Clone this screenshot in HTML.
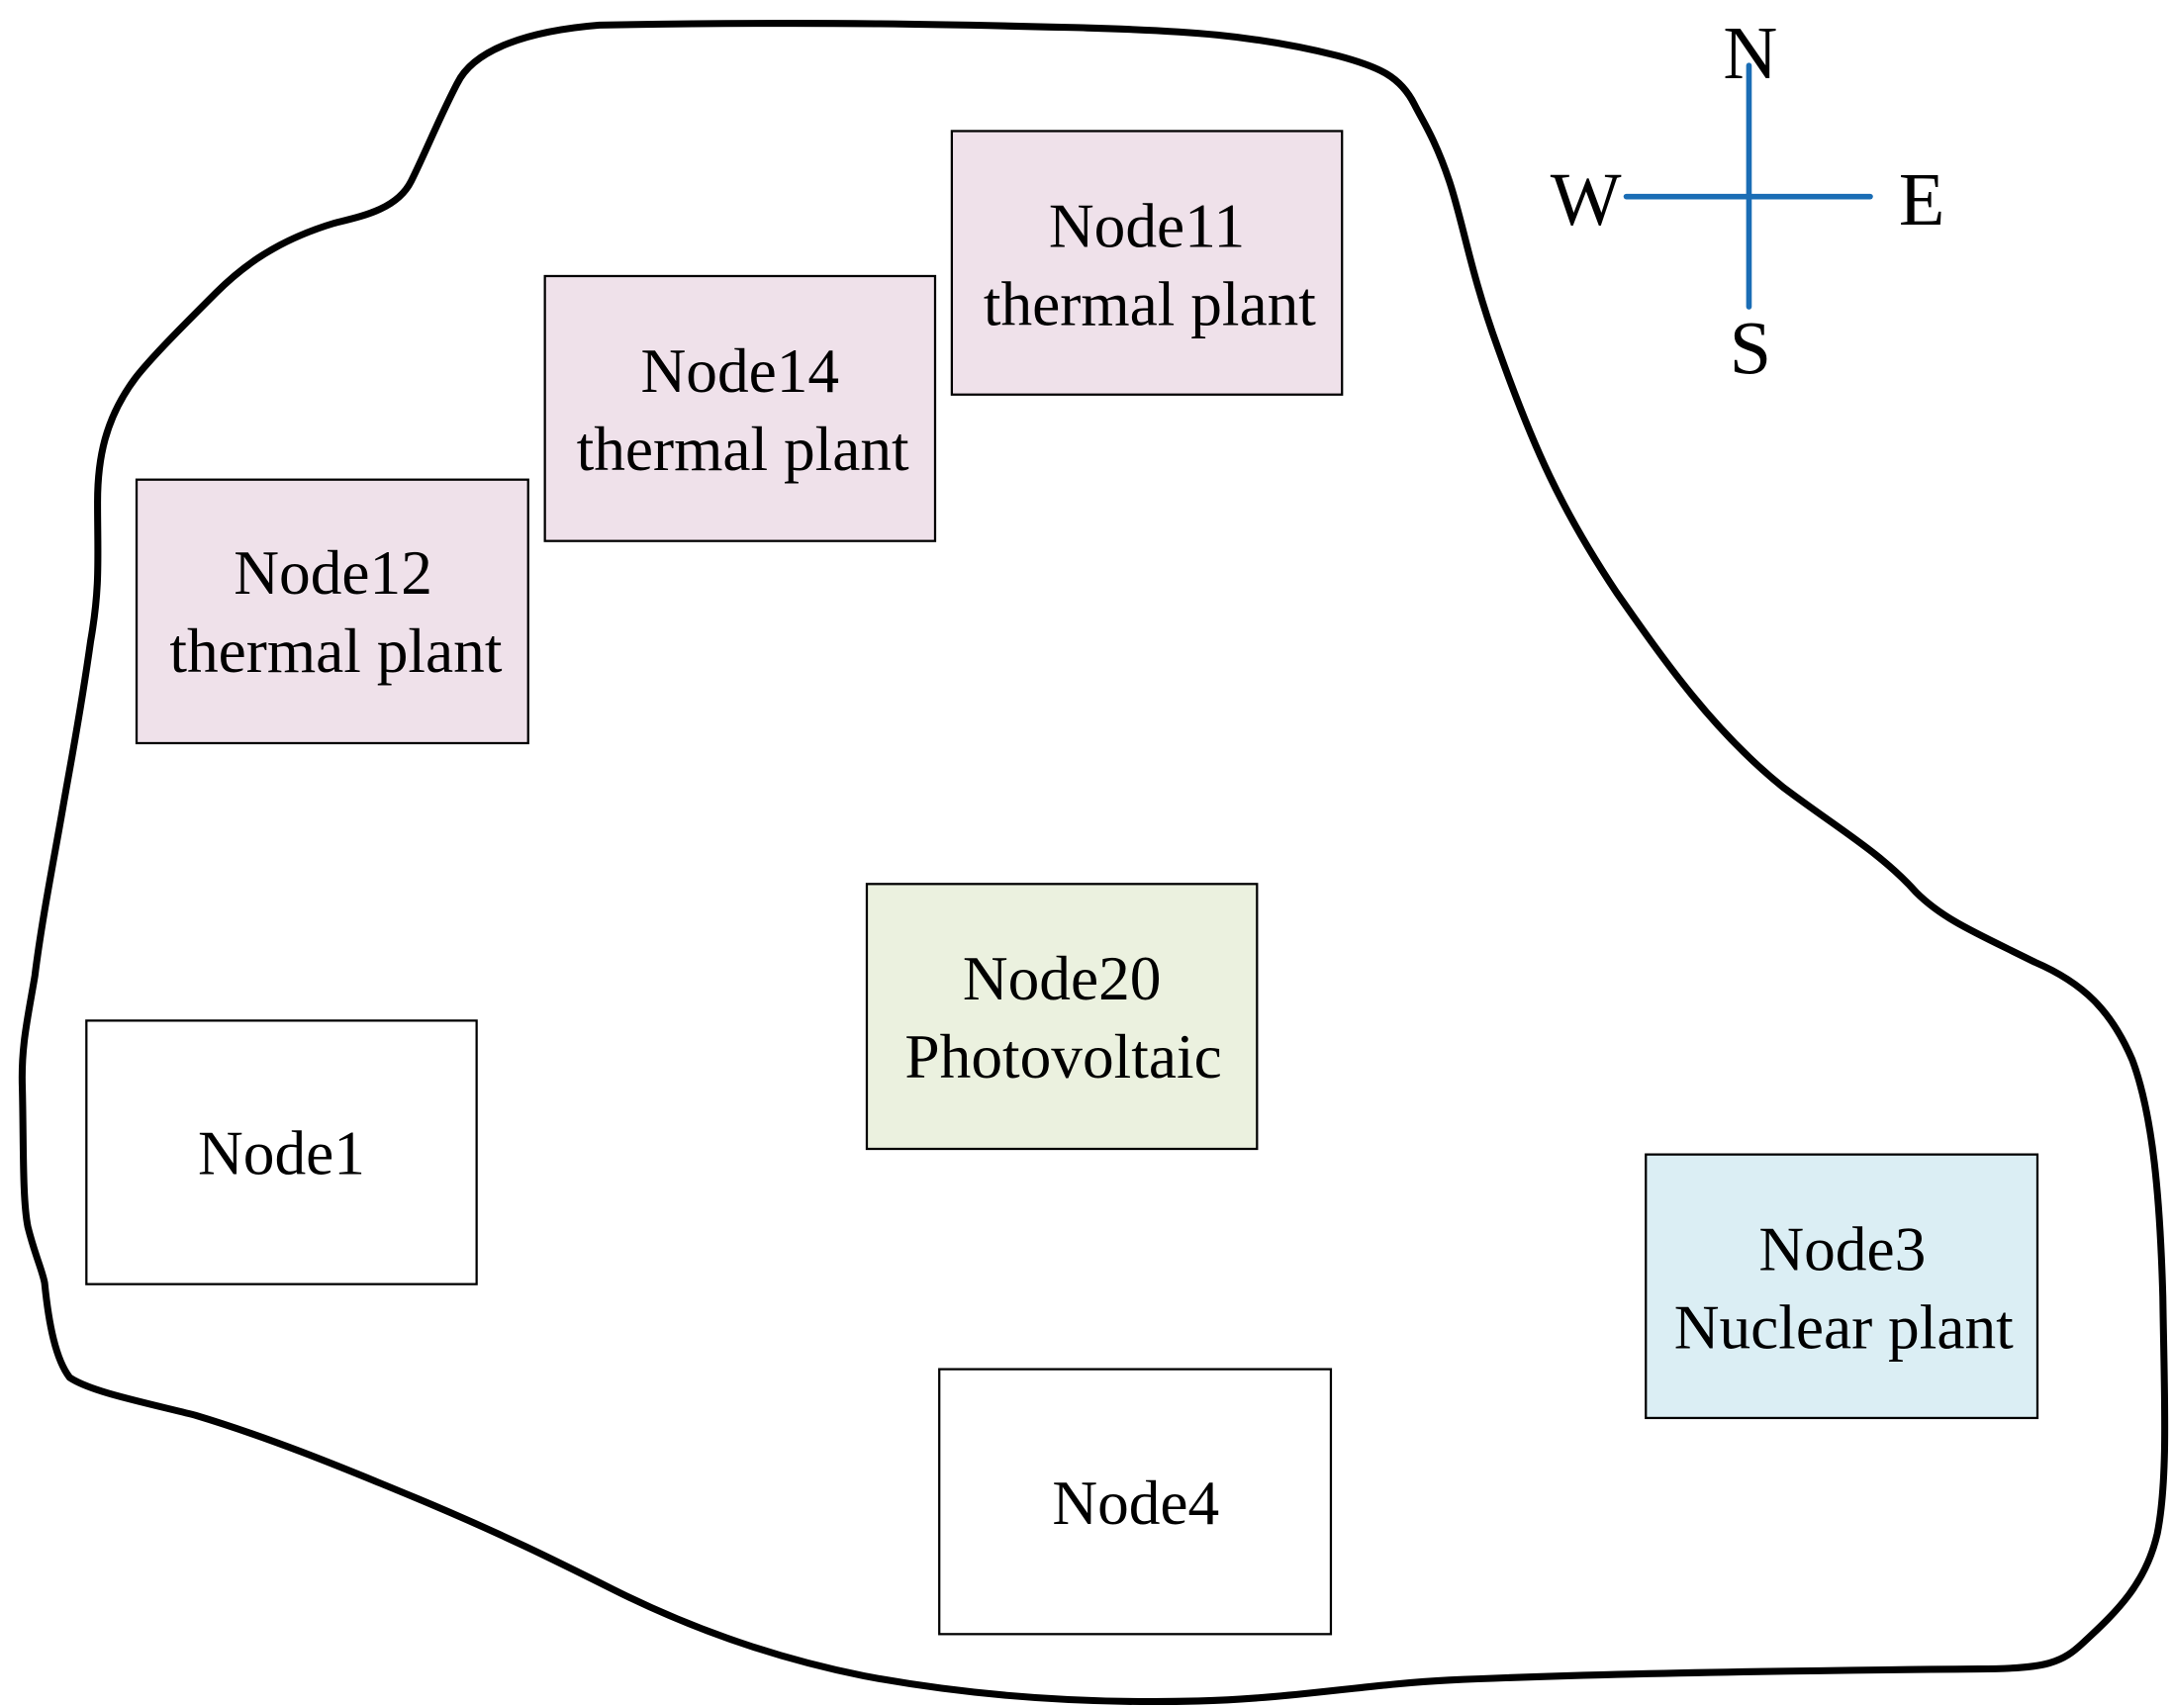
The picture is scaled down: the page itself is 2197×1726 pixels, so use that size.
<!DOCTYPE html>
<html><head><style>html,body{margin:0;padding:0;background:#fff;}svg{display:block}</style></head>
<body>
<svg width="2197" height="1726" viewBox="0 0 1560 1225" preserveAspectRatio="none" xmlns="http://www.w3.org/2000/svg">
<path d="M430,18 C380,22 340,35 328,60 C315,85 305,110 295,130 C285,150 260,155 240,160 C200,172 175,190 155,210 C130,235 110,255 98,270 C75,300 70,330 70,360 C70,400 72,420 65,460 C58,510 52,540 45,580 C38,620 30,660 25,700 C20,730 15,750 16,780 C17,820 16,860 20,880 C25,900 30,910 32,920 C35,950 40,975 50,988 C65,998 100,1005 140,1015 C190,1030 240,1050 300,1075 C360,1100 400,1120 440,1140 C500,1170 560,1190 620,1202 C700,1217 780,1222 860,1220 C930,1218 980,1208 1040,1205 C1150,1200 1300,1198 1420,1197 C1470,1197 1480,1192 1495,1178 C1520,1155 1540,1135 1548,1100 C1556,1060 1553,1000 1552,930 C1550,860 1545,800 1530,760 C1515,725 1495,705 1460,690 C1420,670 1395,660 1375,640 C1350,612 1320,595 1280,565 C1230,525 1195,475 1160,425 C1120,365 1100,320 1075,250 C1055,195 1050,160 1040,130 C1030,100 1020,85 1015,75 C1005,55 990,48 960,40 C900,25 850,22 780,20 C700,18 600,15 430,18 Z" fill="none" stroke="#000" stroke-width="5" stroke-linejoin="round"/>
<g stroke="#000" stroke-width="1.6">
<rect x="683" y="94" width="280" height="189" fill="#efe1ea"/>
<rect x="391" y="198" width="280" height="190" fill="#efe1ea"/>
<rect x="98" y="344" width="281" height="189" fill="#efe1ea"/>
<rect x="622" y="634" width="280" height="190" fill="#ebf1df"/>
<rect x="62" y="732" width="280" height="189" fill="#fff"/>
<rect x="674" y="982" width="281" height="190" fill="#fff"/>
<rect x="1181" y="828" width="281" height="189" fill="#dbeef4"/>
</g>
<g font-family="Liberation Serif, serif" font-size="45" text-anchor="middle" fill="#000">
<text x="823" y="177">Node11</text><text x="825" y="233">thermal plant</text>
<text x="531" y="281">Node14</text><text x="533" y="337">thermal plant</text>
<text x="239" y="426">Node12</text><text x="241" y="482">thermal plant</text>
<text x="762" y="717">Node20</text><text x="763" y="773">Photovoltaic</text>
<text x="202" y="842">Node1</text>
<text x="815" y="1093">Node4</text>
<text x="1322" y="911">Node3</text><text x="1323" y="967">Nuclear plant</text>
</g>
<g font-family="Liberation Serif, serif" font-size="54" text-anchor="middle" fill="#000">
<text x="1256" y="56">N</text><text x="1138" y="161">W</text><text x="1379" y="161">E</text><text x="1256" y="268">S</text>
</g>
<g stroke="#1a6db5" stroke-width="4" stroke-linecap="round">
<line x1="1255" y1="47" x2="1255" y2="220"/>
<line x1="1167" y1="141" x2="1342" y2="141"/>
</g>
</svg>
</body></html>
